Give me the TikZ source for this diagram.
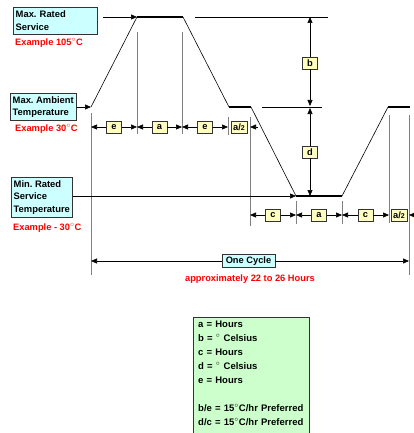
\documentclass[tikz,border=0pt]{standalone}
\usepackage{fontspec}
\setmainfont{Liberation Sans}
\usepackage{xcolor}
\usetikzlibrary{arrows.meta}
\definecolor{boxcyan}{HTML}{CCFFFF}
\definecolor{tagyellow}{HTML}{FFFFC0}
\definecolor{keygreen}{HTML}{CCFFCC}
\definecolor{guidegray}{HTML}{808080}
\newcommand{\degsign}{$^{\circ}$}
\frenchspacing

\tikzset{
  levelbox/.style={draw=black!80, fill=boxcyan, align=left, anchor=north west,
                   inner xsep=2.5pt, inner ysep=3pt,
                   font=\bfseries\fontsize{9.4}{12.5}\selectfont},
  redtext/.style={text=red, inner sep=0pt, font=\bfseries\fontsize{9.3}{11}\selectfont},
  tag/.style={draw=black!80, fill=tagyellow, minimum width=15pt, minimum height=12pt,
              inner xsep=2pt, inner ysep=1pt, font=\bfseries\fontsize{9.3}{11}\selectfont},
  guide/.style={guidegray, line width=1pt},
  ramp/.style={line width=0.6pt},
  dwell/.style={line width=2.2pt},
  dimarr/.style={-{Triangle[length=6pt,width=5pt]}, line width=0.6pt},
}

\begin{document}
\begin{tikzpicture}[x=1pt, y=-1pt]
  \useasboundingbox (0,0) rectangle (414,433);

  % temperature levels
  \node[levelbox, text width=79pt, minimum height=27pt] (rated) at (13,7)
    {Max. Rated\\Service};
  \node[redtext, anchor=west] (ratedex) at (15,43) {Example 105\degsign C};
  \node[levelbox, minimum height=27pt] (ambient) at (10,93)
    {Max. Ambient\\Temperature};
  \node[redtext, anchor=west] (ambientex) at (15,129) {Example 30\degsign C};
  \node[levelbox, minimum height=40pt] (minrated) at (11,177)
    {Min. Rated\\Service\\Temperature};
  \node[redtext, anchor=west] (minratedex) at (13,228) {Example - 30\degsign C};

  % profile corners
  \coordinate (p0) at (91,107);
  \coordinate (p1) at (137,17);
  \coordinate (p2) at (183,17);
  \coordinate (p3) at (229,107);
  \coordinate (p4) at (251,107);
  \coordinate (p5) at (296,196);
  \coordinate (p6) at (342,196);
  \coordinate (p7) at (388,107);
  \coordinate (p8) at (410,107);
  \coordinate (rated0) at (103,17);

  % guide lines
  \foreach \x/\ya/\yb in {91/113/275, 137/32/134, 182/32/134, 228/117/135,
                          250/117/226, 296/201/224, 342/201/224, 389/115/223, 409/115/275}
    \draw[guide] (\x,\ya) -- (\x,\yb);

  \draw[ramp] (195,17) -- (328,17);
  \draw[ramp] (262,107) -- (322,107);

  \draw[ramp] (p0) -- (p1) (p2) -- (p3) (p4) -- (p5) (p6) -- (p7);
  \draw[dwell] (p1) -- (p2) (p3) -- (p4) (p5) -- (p6) (p7) -- (p8);

  \draw[dimarr] (rated0) -- (p1);
  \draw[dimarr] (ambient.east |- p0) -- (p0);
  \draw[dimarr] (minrated.east |- p5) -- (p5);

  % b and d
  \node[tag] (b) at (310,63) {b};
  \node[tag] (d) at (310,152) {d};
  \coordinate (btop) at (310,17);
  \coordinate (bbot) at (310,106);
  \coordinate (dtop) at (310,108);
  \coordinate (dbot) at (310,196);
  \draw[dimarr] (b) -- (btop);
  \draw[dimarr] (b) -- (bbot);
  \draw[dimarr] (d) -- (dtop);
  \draw[dimarr] (d) -- (dbot);

  % upper row of times
  \coordinate (r1a) at (91,127);
  \coordinate (r1b) at (137,127);
  \coordinate (r1c) at (182,127);
  \coordinate (r1d) at (228,127);
  \coordinate (r1e) at (250,127);
  \coordinate (r1f) at (258,127);
  \node[tag] (e1) at (114,127) {e};
  \node[tag] (a1) at (159.5,127) {a};
  \node[tag] (e2) at (205,127) {e};
  \node[tag] (ah1) at (239,127) {a/{\fontsize{7}{7}\selectfont 2}};
  \draw[dimarr] (e1) -- (r1a);
  \draw[dimarr] (e1) -- (r1b);
  \draw[dimarr] (a1) -- (r1b);
  \draw[dimarr] (a1) -- (r1c);
  \draw[dimarr] (e2) -- (r1c);
  \draw[dimarr] (e2) -- (r1d);
  \draw[dimarr] (r1f) -- (r1e);

  % lower row of times
  \coordinate (r2a) at (250,215);
  \coordinate (r2b) at (296,215);
  \coordinate (r2c) at (342,215);
  \coordinate (r2d) at (389,215);
  \coordinate (r2e) at (409,215);
  \coordinate (r2f) at (416,215);
  \node[tag] (c1) at (273,215) {c};
  \node[tag] (a2) at (319,215) {a};
  \node[tag] (c2) at (365.5,215) {c};
  \node[tag] (ah2) at (399,215) {a/{\fontsize{7}{7}\selectfont 2}};
  \draw[dimarr] (c1) -- (r2a);
  \draw[dimarr] (c1) -- (r2b);
  \draw[dimarr] (a2) -- (r2b);
  \draw[dimarr] (a2) -- (r2c);
  \draw[dimarr] (c2) -- (r2c);
  \draw[dimarr] (c2) -- (r2d);
  \draw[dimarr] (r2f) -- (r2e);

  % one cycle
  \coordinate (cycl) at (91,261);
  \coordinate (cycr) at (409,261);
  \node[levelbox, anchor=center, inner xsep=3.5pt, inner ysep=2pt, minimum height=13pt,
        font=\bfseries\fontsize{9.3}{11}\selectfont] (cycle) at (248.5,261) {One Cycle};
  \draw[dimarr] (cycle) -- (cycl);
  \draw[dimarr] (cycle) -- (cycr);
  \node[redtext] (hours) at (250,279) {approximately 22 to 26 Hours};

  % key
  \node[draw=black!80, fill=keygreen, anchor=north west, align=left,
        text width=106pt, inner xsep=5pt, inner ysep=4pt,
        font=\bfseries\fontsize{9.5}{14}\selectfont] (key) at (193,317)
    {a = Hours\\
     b = \degsign{} Celsius\\
     c = Hours\\
     d = \degsign{} Celsius\\
     e = Hours\\
     \mbox{}\\
     b/e = 15\degsign C/hr Preferred\\
     d/c = 15\degsign C/hr Preferred\\[6pt]\mbox{}};
\end{tikzpicture}
\end{document}
